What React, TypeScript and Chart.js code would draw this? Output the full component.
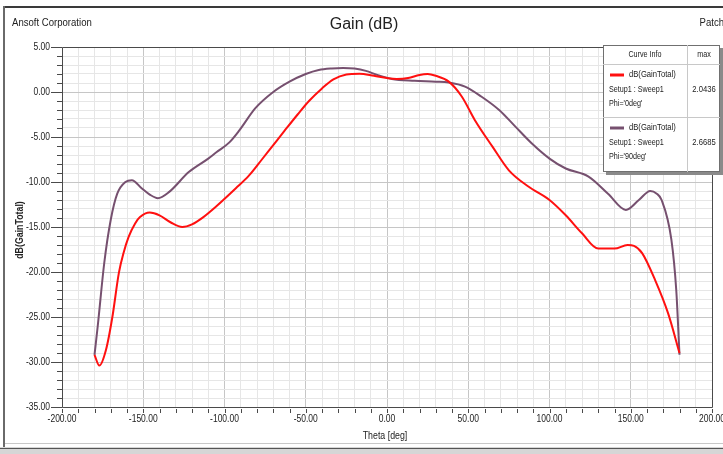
import React, { useEffect, useRef } from "react";
import { Chart, registerables } from "chart.js";

Chart.register(...registerables);

// ---- data ----
const thetaPhi0 = [-180, -177, -173, -169, -165, -162, -159, -155, -152, -146, -140, -133, -126, -120, -113, -105, -93, -85, -77, -70, -63, -55, -48, -40, -33, -25, -17, -8, 0, 6, 13, 20, 25, 30, 38, 46, 54, 65, 75, 87, 100, 110, 120, 130, 140, 148, 152, 157, 165, 173, 180];
const gainPhi0 = [-29.2, -30.4, -28.7, -25.0, -20.1, -17.8, -16.1, -14.6, -13.9, -13.4, -13.7, -14.5, -15.0, -14.7, -13.9, -12.7, -10.7, -9.3, -7.5, -5.9, -4.3, -2.5, -1.0, 0.4, 1.4, 1.95, 2.04, 1.8, 1.55, 1.45, 1.55, 1.9, 2.0, 1.8, 1.15, -0.5, -3.1, -6.1, -8.7, -10.5, -12.0, -13.7, -15.7, -17.4, -17.4, -17.0, -17.1, -17.9, -20.9, -24.6, -29.0];

const thetaPhi90 = [-180, -178, -174, -170, -166, -161, -157, -151, -146, -141, -134, -122, -110, -105, -97, -91, -81, -70, -60, -50, -42, -34, -27, -20, -13, -6, 3, 17, 30, 38, 48, 58, 69, 79, 89, 100, 110, 124, 136, 147, 155, 162, 166, 169, 175, 178, 180];
const gainPhi90 = [-29.2, -26.0, -19.0, -14.2, -11.3, -10.0, -9.8, -10.7, -11.4, -11.8, -11.1, -8.9, -7.4, -6.7, -5.6, -4.3, -1.8, 0.0, 1.15, 2.0, 2.45, 2.62, 2.67, 2.6, 2.35, 1.9, 1.45, 1.25, 1.15, 1.05, 0.6, -0.5, -2.0, -3.85, -5.7, -7.4, -8.5, -9.4, -11.3, -13.1, -12.0, -11.0, -11.3, -12.0, -16.4, -22.0, -29.2];

const seriesNames = ["dB(GainTotal)", "dB(GainTotal)"];
const seriesSetup = ["Setup1 : Sweep1", "Setup1 : Sweep1"];
const seriesPhi = ["Phi='0deg'", "Phi='90deg'"];
const seriesMax = ["2.0436", "2.6685"];
const seriesColors = ["#ff1010", "#76506f"];

const xMin = -200, xMax = 200, xStep = 10, xMajor = 50;
const yMin = -35, yMax = 5, yStep = 1, yMajor = 5;

const FONT = "'Liberation Sans', Arial, sans-serif";

function txt(ctx: any, s: string, x: number, y: number, align: string, font: string, sx: number) {
  ctx.save();
  ctx.font = font;
  ctx.textAlign = align;
  ctx.textBaseline = "middle";
  ctx.translate(x, y);
  ctx.scale(sx, 1);
  ctx.fillText(s, 0, 0);
  ctx.restore();
}

const decor = {
  id: "decor",
  beforeDraw(chart: any) {
    const { ctx, width, height } = chart;
    ctx.save();
    ctx.fillStyle = "#ffffff";
    ctx.fillRect(0, 0, width, height);
    // outer frame
    ctx.fillStyle = "#3a3a3a";
    ctx.fillRect(3, 6, width - 3, 2);
    ctx.fillStyle = "#6a6a6a";
    ctx.fillRect(3, 6, 2, 441);
    ctx.fillStyle = "#c8c8c8";
    ctx.fillRect(5, 443, width - 5, 1);
    ctx.fillStyle = "#d6d6d6";
    ctx.fillRect(0, 447, width, 7);
    ctx.fillStyle = "#555555";
    ctx.fillRect(0, 448, width, 1);
    ctx.fillStyle = "#222";
    txt(ctx, "Ansoft Corporation", 12, 23, "left", `11px ${FONT}`, 0.87);
    txt(ctx, "Patch", 724, 23, "right", `11px ${FONT}`, 0.87);
    txt(ctx, "Gain (dB)", 364, 25, "center", `16px ${FONT}`, 1);
    ctx.restore();
  },
  beforeDatasetsDraw(chart: any) {
    const { ctx, chartArea: a, scales } = chart;
    ctx.save();
    ctx.strokeStyle = "#4a4a4a";
    ctx.lineWidth = 1;
    ctx.beginPath();
    ctx.moveTo(a.left + 0.5, a.top + 0.5);
    ctx.lineTo(a.right + 0.5, a.top + 0.5);
    ctx.lineTo(a.right + 0.5, a.bottom + 0.5);
    ctx.lineTo(a.left + 0.5, a.bottom + 0.5);
    ctx.closePath();
    ctx.stroke();
    // tick marks
    ctx.beginPath();
    for (let v = yMin; v <= yMax; v += yStep) {
      const y = Math.round(scales.y.getPixelForValue(v)) + 0.5;
      const len = v % yMajor === 0 ? 11 : 5;
      ctx.moveTo(a.left - len, y);
      ctx.lineTo(a.left, y);
    }
    for (let v = xMin; v <= xMax; v += xStep) {
      const x = Math.round(scales.x.getPixelForValue(v)) + 0.5;
      ctx.moveTo(x, a.bottom + 2);
      ctx.lineTo(x, a.bottom + 6);
    }
    ctx.stroke();
    // tick labels
    ctx.fillStyle = "#222";
    for (let v = yMin; v <= yMax; v += yMajor) {
      txt(ctx, v.toFixed(2), a.left - 12, scales.y.getPixelForValue(v), "right", `10px ${FONT}`, 0.85);
    }
    for (let v = xMin; v <= xMax; v += xMajor) {
      txt(ctx, v.toFixed(2), scales.x.getPixelForValue(v), a.bottom + 12, "center", `10px ${FONT}`, 0.85);
    }
    // axis titles
    txt(ctx, "Theta [deg]", 385, 436, "center", `10px ${FONT}`, 0.88);
    ctx.save();
    ctx.translate(20, 230);
    ctx.rotate(-Math.PI / 2);
    txt(ctx, "dB(GainTotal)", 0, 0, "center", `bold 10px ${FONT}`, 0.88);
    ctx.restore();
    ctx.restore();
  },
  afterDatasetsDraw(chart: any) {
    const { ctx } = chart;
    const L = 603, T = 45, R = 720, B = 172, C = 687;
    ctx.save();
    ctx.fillStyle = "#8a8a8a";
    ctx.fillRect(L + 3, B, R - L, 3);
    ctx.fillRect(R, T + 3, 3, B - T);
    ctx.fillStyle = "#ffffff";
    ctx.fillRect(L, T, R - L, B - T);
    ctx.strokeStyle = "#707070";
    ctx.lineWidth = 1;
    ctx.strokeRect(L + 0.5, T + 0.5, R - L - 1, B - T - 1);
    ctx.strokeStyle = "#c8c8c8";
    ctx.beginPath();
    ctx.moveTo(L, 64.5); ctx.lineTo(R, 64.5);
    ctx.moveTo(L, 117.5); ctx.lineTo(R, 117.5);
    ctx.moveTo(C + 0.5, T); ctx.lineTo(C + 0.5, B);
    ctx.stroke();
    ctx.fillStyle = "#222";
    const f = `9px ${FONT}`;
    txt(ctx, "Curve Info", 645, 55, "center", f, 0.8);
    txt(ctx, "max", 704, 55, "center", f, 0.8);
    const rows = [75, 128];
    rows.forEach((ry, i) => {
      ctx.strokeStyle = seriesColors[i];
      ctx.lineWidth = 3;
      ctx.beginPath();
      ctx.moveTo(610, ry);
      ctx.lineTo(624, ry);
      ctx.stroke();
      ctx.fillStyle = "#222";
      txt(ctx, seriesNames[i], 629, ry, "left", f, 0.85);
      txt(ctx, seriesSetup[i], 609, ry + 15, "left", f, 0.8);
      txt(ctx, seriesPhi[i], 609, ry + 29, "left", f, 0.8);
      txt(ctx, seriesMax[i], 704, ry + 15, "center", f, 0.85);
    });
    ctx.restore();
  },
};

export default function App() {
  const ref = useRef<HTMLCanvasElement>(null);
  useEffect(() => {
    const chart = new Chart(ref.current!, {
      type: "scatter",
      data: {
        datasets: [
          {
            label: "Phi=0deg",
            data: thetaPhi0.map((t, i) => ({ x: t, y: gainPhi0[i] })),
            borderColor: seriesColors[0],
            borderWidth: 2,
            showLine: true,
            pointRadius: 0,
            tension: 0.4,
            cubicInterpolationMode: "monotone",
          } as any,
          {
            label: "Phi=90deg",
            data: thetaPhi90.map((t, i) => ({ x: t, y: gainPhi90[i] })),
            borderColor: seriesColors[1],
            borderWidth: 2,
            showLine: true,
            pointRadius: 0,
            tension: 0.4,
            cubicInterpolationMode: "monotone",
          } as any,
        ],
      },
      options: {
        responsive: false,
        animation: false,
        devicePixelRatio: 1,
        layout: { padding: { left: 0, top: 47, right: 11, bottom: 0 } },
        plugins: { legend: { display: false }, title: { display: false }, tooltip: { enabled: false } },
        scales: {
          x: {
            type: "linear",
            min: xMin,
            max: xMax,
            border: { display: false },
            grid: {
              drawTicks: false,
              color: (c: any) => (c.tick && c.tick.value % xMajor === 0 ? "#c6c6c6" : "#e6e6e6"),
            },
            ticks: { stepSize: xStep, autoSkip: false, display: false },
            afterFit: (s: any) => {
              s.height = 47;
              s.paddingLeft = 0;
              s.paddingRight = 0;
            },
          },
          y: {
            type: "linear",
            min: yMin,
            max: yMax,
            border: { display: false },
            grid: {
              drawTicks: false,
              color: (c: any) => (c.tick && c.tick.value % yMajor === 0 ? "#c6c6c6" : "#e6e6e6"),
            },
            ticks: { stepSize: yStep, autoSkip: false, display: false },
            afterFit: (s: any) => {
              s.width = 62;
              s.paddingTop = 0;
              s.paddingBottom = 0;
            },
          },
        },
      },
      plugins: [decor],
    });
    return () => chart.destroy();
  }, []);
  return (
    <div style={{ position: "fixed", left: 0, top: 0, width: 723, height: 454 }}>
      <canvas ref={ref} width={723} height={454} />
    </div>
  );
}
